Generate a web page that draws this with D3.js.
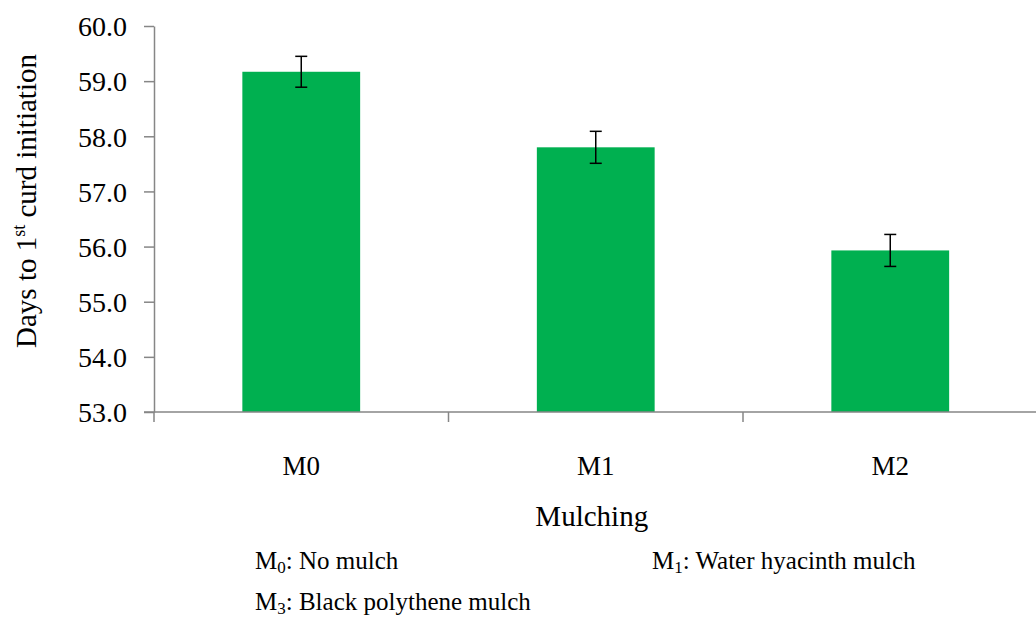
<!DOCTYPE html>
<html>
<head>
<style>
body { margin: 0; background: #fff; }
svg text { font-family: "Liberation Serif", "DejaVu Serif", "Times New Roman", serif; fill: #000; }
</style>
</head>
<body>
<svg id="chart" width="1036" height="622"></svg>
<script src="https://d3js.org/d3.v7.min.js"></script>
<script>
const categories = ["M0", "M1", "M2"];
const values = [59.17, 57.80, 55.93];
const errors = [0.28, 0.29, 0.29];
const yTicks = [53, 54, 55, 56, 57, 58, 59, 60];
const legendItems = [
    {sym: "M", sub: "0", label: ": No mulch"},
    {sym: "M", sub: "1", label: ": Water hyacinth mulch"},
    {sym: "M", sub: "3", label: ": Black polythene mulch"}
];

const svg = d3.select("#chart");
const plotLeft = 154, plotTop = 26, plotBottom = 412, bandW = 294.5;
const axisColor = "#868686";
const serif = "'Liberation Serif', 'DejaVu Serif', serif";

const x = d3.scaleBand()
    .domain(categories)
    .range([plotLeft, plotLeft + bandW * 3])
    .paddingInner(0.6)
    .paddingOuter(0.3);
const y = d3.scaleLinear().domain([53, 60]).range([plotBottom, plotTop]);

// y axis
const yAxis = svg.append("g")
    .attr("transform", "translate(" + plotLeft + ",0)")
    .call(d3.axisLeft(y).tickValues(yTicks).tickSize(10).tickSizeOuter(0).tickFormat(d3.format(".1f")));
yAxis.attr("font-family", null).attr("font-size", null);
yAxis.select(".domain").attr("stroke", axisColor).attr("stroke-width", 1.5);
yAxis.selectAll(".tick line").attr("stroke", axisColor).attr("stroke-width", 1.5);
yAxis.selectAll(".tick text")
    .attr("x", -27)
    .attr("dy", "0.35em")
    .style("font-family", serif)
    .style("font-size", "28px")
    .attr("fill", "#000");

// bars
svg.selectAll("rect.bar")
    .data(categories)
    .enter()
    .append("rect")
    .attr("class", "bar")
    .attr("x", d => x(d))
    .attr("width", x.bandwidth())
    .attr("y", (d, i) => y(values[i]))
    .attr("height", (d, i) => plotBottom - y(values[i]))
    .attr("fill", "#00B050");

// error bars
const eb = svg.selectAll("g.err")
    .data(categories)
    .enter()
    .append("g")
    .attr("class", "err")
    .attr("stroke", "#000")
    .attr("stroke-width", 1.5);
eb.append("line")
    .attr("x1", d => x(d) + x.bandwidth() / 2)
    .attr("x2", d => x(d) + x.bandwidth() / 2)
    .attr("y1", (d, i) => y(values[i] + errors[i]))
    .attr("y2", (d, i) => y(values[i] - errors[i]));
[1, -1].forEach(s => {
    eb.append("line")
        .attr("x1", d => x(d) + x.bandwidth() / 2 - 6)
        .attr("x2", d => x(d) + x.bandwidth() / 2 + 6)
        .attr("y1", (d, i) => y(values[i] + s * errors[i]))
        .attr("y2", (d, i) => y(values[i] + s * errors[i]));
});

// x axis
svg.append("line")
    .attr("x1", plotLeft - 10).attr("x2", 1036)
    .attr("y1", plotBottom).attr("y2", plotBottom)
    .attr("stroke", axisColor).attr("stroke-width", 1.5);
const bounds = d3.range(categories.length + 1).map(i => plotLeft + i * bandW);
svg.selectAll("line.xtick")
    .data(bounds)
    .enter()
    .append("line")
    .attr("x1", d => d).attr("x2", d => d)
    .attr("y1", plotBottom).attr("y2", plotBottom + 10)
    .attr("stroke", axisColor).attr("stroke-width", 1.5);

svg.selectAll("text.xlab")
    .data(categories)
    .enter()
    .append("text")
    .attr("x", d => x(d) + x.bandwidth() / 2)
    .attr("y", 475)
    .attr("text-anchor", "middle")
    .style("font-size", "27px")
    .text(d => d);

// axis titles
svg.append("text")
    .attr("x", plotLeft + bandW * 1.5 - 4)
    .attr("y", 526)
    .attr("text-anchor", "middle")
    .style("font-size", "29px")
    .text("Mulching");

const yt = svg.append("text")
    .attr("transform", "translate(36,201) rotate(-90)")
    .attr("text-anchor", "middle")
    .style("font-size", "29px");
yt.append("tspan").text("Days to 1");
yt.append("tspan").attr("dy", -11).style("font-size", "18px").text("st");
yt.append("tspan").attr("dy", 11).text(" curd initiation");

// legend
const legendPos = [[255, 569], [652, 569], [255, 610]];
legendItems.forEach((d, i) => {
    const t = svg.append("text")
        .attr("x", legendPos[i][0])
        .attr("y", legendPos[i][1])
        .style("font-size", "25px");
    t.append("tspan").text(d.sym);
    t.append("tspan").attr("dy", 4).style("font-size", "17px").text(d.sub);
    t.append("tspan").attr("dy", -4).text(d.label);
});
</script>
</body>
</html>
